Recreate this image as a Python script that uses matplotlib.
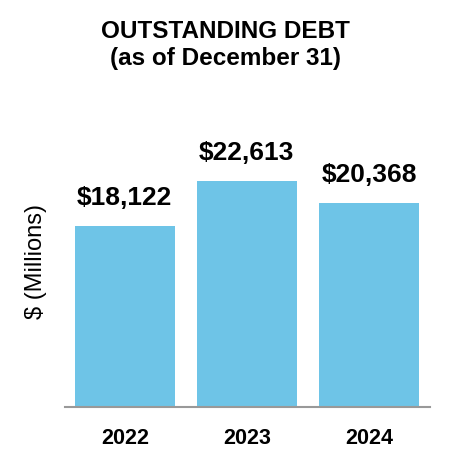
import matplotlib
matplotlib.use("Agg")
import matplotlib.pyplot as plt

years = ["2022", "2023", "2024"]
debt = [18122, 22613, 20368]
value_labels = ["$18,122", "$22,613", "$20,368"]

plt.rcParams['font.family'] = ['Liberation Sans', 'DejaVu Sans']

fig = plt.figure(figsize=(4.5, 4.66), dpi=100)
W, H = 450, 466
left, right, bottom, top = 65, 430, 407, 107
ax = fig.add_axes([left / W, 1 - bottom / H, (right - left) / W, (bottom - top) / H])

x = list(range(len(years)))
ax.bar(x, debt, width=0.82, color="#6EC4E7", zorder=2)
for xi, v, lab in zip(x, debt, value_labels):
    ax.text(xi, v + 1600, lab, ha="center", va="bottom", fontsize=19, fontweight="bold")

ax.set_xlim(-0.49, 2.5)
ax.set_ylim(0, 30000)
ax.set_xticks(x)
ax.set_xticklabels(years, fontsize=15.5, fontweight="bold")
ax.tick_params(axis="x", length=0, pad=15)
ax.set_yticks([])
for s in ["top", "right", "left"]:
    ax.spines[s].set_visible(False)
ax.spines["bottom"].set_color("#999999")
ax.spines["bottom"].set_linewidth(1.5)
ax.set_ylabel("$ (Millions)", fontsize=17)
ax.yaxis.set_label_coords(-0.05, 0.485)

fig.text(225 / W, 1 - 45 / H, "OUTSTANDING DEBT\n(as of December 31)", ha="center", va="center",
         fontsize=17.5, fontweight="bold", linespacing=1.2)

fig.savefig("out.png", dpi=100)
